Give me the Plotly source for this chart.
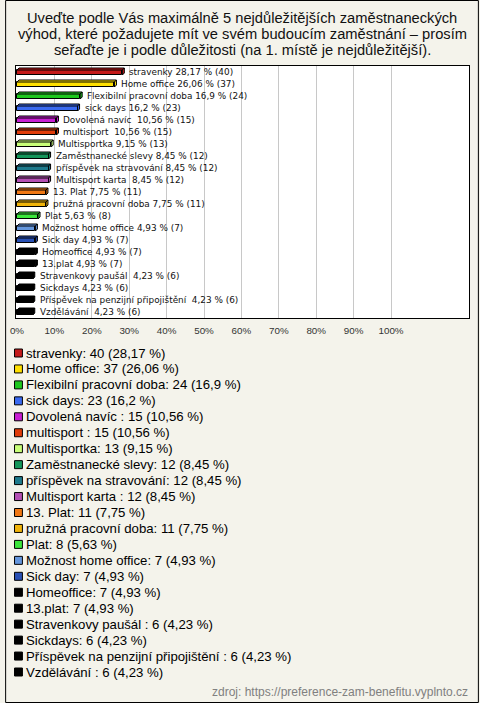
import plotly.graph_objects as go

# ---- data ----
names = ["stravenky", "Home office", "Flexibilní pracovní doba", "sick days",
         "Dovolená navíc ", "multisport ", "Multisportka", "Zaměstnanecké slevy",
         "příspěvek na stravování", "Multisport karta ", "13. Plat",
         "pružná pracovní doba", "Plat", "Možnost home office", "Sick day",
         "Homeoffice", "13.plat", "Stravenkovy paušál ", "Sickdays",
         "Příspěvek na penzijní připojištění ", "Vzdělávání "]
counts = [40, 37, 24, 23, 15, 15, 13, 12, 12, 12, 11, 11, 8, 7, 7, 7, 7, 6, 6, 6, 6]
percents = [28.17, 26.06, 16.9, 16.2, 10.56, 10.56, 9.15, 8.45, 8.45, 8.45, 7.75,
            7.75, 5.63, 4.93, 4.93, 4.93, 4.93, 4.23, 4.23, 4.23, 4.23]
colors = ["#C41A1A", "#FFE000", "#1EC81E", "#3A6AF0", "#C81ED2", "#E03C0A",
          "#C8FF78", "#14965A", "#1E7A8C", "#B450B4", "#F07814", "#F0B40A",
          "#3CE63C", "#6496DC", "#2850B4", "#000000", "#000000", "#000000",
          "#000000", "#000000", "#000000"]
tick_vals = [0, 10, 20, 30, 40, 50, 60, 70, 80, 90, 100]
tick_text = ["0%", "10%", "20%", "30%", "40%", "50%", "60%", "70%", "80%", "90%", "100%"]
title_lines = ["Uveďte podle Vás maximálně 5 nejdůležitějších zaměstnaneckých",
               "výhod, které požadujete mít ve svém budoucím zaměstnání – prosím",
               "seřaďte je i podle důležitosti (na 1. místě je nejdůležitější)."]
source = "zdroj: https://preference-zam-benefitu.vyplnto.cz"

# ---- geometry ----
W, H = 480, 703
L, R, T, B = 11, 470, 66, 318
PX_PER_PCT = 3.79
ZERO_PX = 12
xmin = -(ZERO_PX - L) / PX_PER_PCT
xmax = (R - ZERO_PX) / PX_PER_PCT
n = len(names)
ROW = (B - T) / n
dx = 2 / PX_PER_PCT
dy = 2 / ROW


def fmt(p):
    return str(p).replace(".", ",")


def px_x(p):
    return (p - L) / (R - L)


def px_y(p):
    return (B - p) / (B - T)


idx = list(range(n))
fig = go.Figure()
fig.add_trace(go.Bar(
    x=percents, y=[i + 0.5 / ROW for i in idx], orientation="h",
    width=5 / ROW, marker=dict(color=colors, line=dict(color="black", width=1)),
    showlegend=False, hoverinfo="skip"))

shapes = []
annotations = []
for i, (nm, c, p, col) in enumerate(zip(names, counts, percents, colors)):
    top = i - 2 / ROW
    bot = i + 3 / ROW
    shapes.append(dict(type="path", xref="x", yref="y",
                       path=f"M 0,{top} L {p},{top} L {p+dx},{top-dy} L {dx},{top-dy} Z",
                       fillcolor=col, line=dict(color="black", width=1)))
    shapes.append(dict(type="path", xref="x", yref="y",
                       path=f"M {p},{top} L {p+dx},{top-dy} L {p+dx},{bot-dy} L {p},{bot} Z",
                       fillcolor=col, line=dict(color="black", width=1)))
    lab = f"{nm} {fmt(p)} % ({c})".replace("  ", " \u00a0")
    annotations.append(dict(x=p + 6 / PX_PER_PCT, y=i, xref="x", yref="y", text=lab,
                            showarrow=False, xanchor="left", yanchor="middle", borderpad=0,
                            font=dict(family="DejaVu Sans", size=8.9, color="#111")))
    # legend
    ly = 353 + i * 15.95
    shapes.append(dict(type="rect", xref="paper", yref="paper",
                       x0=px_x(9.5), x1=px_x(17.5), y0=px_y(ly - 4), y1=px_y(ly + 4),
                       fillcolor=col, line=dict(color="black", width=1)))
    ltxt = f"{nm}: {c} ({fmt(p)} %)"
    annotations.append(dict(x=px_x(20.5), y=px_y(ly), xref="paper", yref="paper", text=ltxt,
                            showarrow=False, xanchor="left", yanchor="middle", borderpad=0,
                            font=dict(family="Liberation Sans", size=13.2, color="#000")))

for k, line in enumerate(title_lines):
    annotations.append(dict(x=px_x(240), y=px_y(18 + 16 * k), xref="paper", yref="paper",
                            text=line, showarrow=False, xanchor="center", yanchor="middle",
                            font=dict(family="Liberation Sans", size=14.7, color="#111")))

annotations.append(dict(x=px_x(470), y=px_y(692), xref="paper", yref="paper", text=source,
                        showarrow=False, xanchor="right", yanchor="middle", borderpad=0,
                        font=dict(family="Liberation Sans", size=12, color="#808080")))

shapes.append(dict(type="rect", xref="paper", yref="paper",
                   x0=px_x(0.5), x1=px_x(479.5), y0=px_y(0.5), y1=px_y(702.5),
                   line=dict(color="black", width=1), fillcolor="rgba(0,0,0,0)"))

fig.update_layout(
    width=W, height=H,
    margin=dict(l=L, r=W - R, t=T, b=H - B, pad=0),
    paper_bgcolor="#F4F3EB", plot_bgcolor="white",
    shapes=shapes, annotations=annotations,
    xaxis=dict(range=[xmin, xmax], tickvals=tick_vals, ticktext=tick_text,
               showgrid=True, gridcolor="#C8C8C8", gridwidth=1, zeroline=False,
               showline=True, linecolor="black", linewidth=1, mirror=True,
               ticks="", ticklabelstandoff=3,
               tickfont=dict(family="Liberation Sans", size=9.8, color="#333")),
    yaxis=dict(range=[n - 0.5, -0.5], showticklabels=False, showgrid=False,
               zeroline=False, showline=True, linecolor="black", linewidth=1,
               mirror=True, ticks=""),
    bargap=0,
)

fig.write_html("out.html", config={"displayModeBar": False},
               post_script="document.body.style.margin='0';document.body.style.overflow='hidden';")
